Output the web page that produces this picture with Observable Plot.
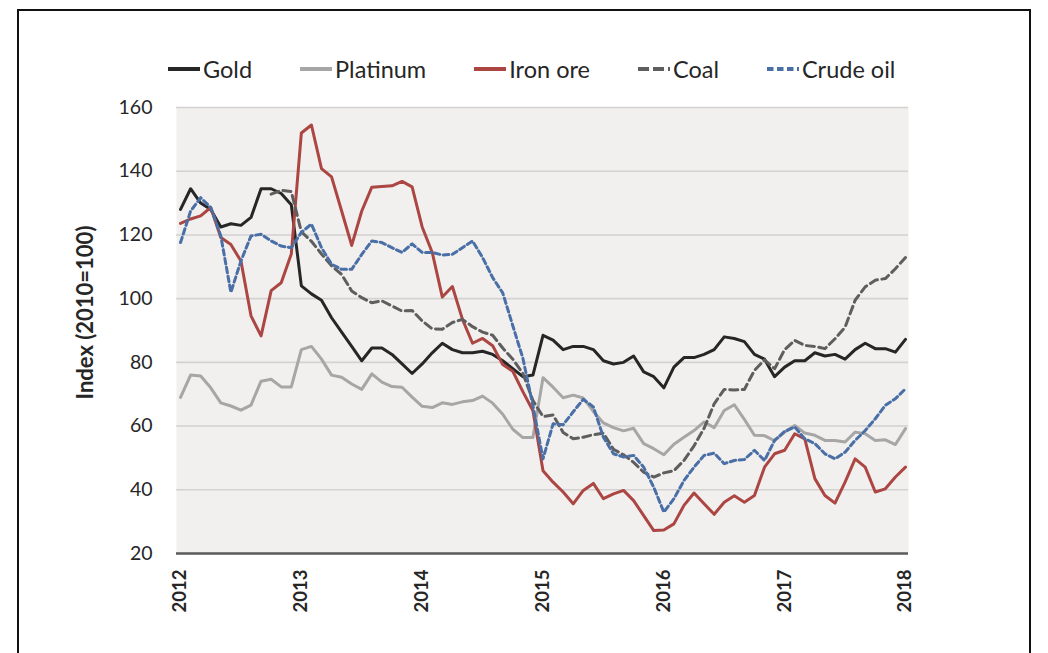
<!DOCTYPE html>
<html>
<head>
<meta charset="utf-8">
<script src="https://cdn.jsdelivr.net/npm/d3@7"></script>
<script src="https://cdn.jsdelivr.net/npm/@observablehq/plot@0.6"></script>
<style>
html, body { margin: 0; padding: 0; background: #fff; }
#wrap { position: relative; width: 1048px; height: 653px; overflow: hidden; font-family: Lato, "Open Sans", sans-serif; color: #262626; }
#frame { position: absolute; left: 17px; top: 9px; width: 1014px; height: 720px; border: 2px solid #111; box-sizing: border-box; }
#legend { position: absolute; top: 55px; left: 168px; display: flex; align-items: center; height: 28px; font-size: 23.5px; white-space: nowrap; }
.item { display: flex; align-items: center; margin-right: 48px; }
.item svg { margin-right: 3px; display: block; }
#chart { position: absolute; left: 0; top: 90px; }
</style>
</head>
<body>
<div id="wrap">
  <div id="frame"></div>
  <div id="legend"></div>
  <div id="chart"></div>
</div>
<script>
// ---- data (monthly, Jan 2012 .. Jan 2018; index 2010 = 100) ----
const years = [2012, 2013, 2014, 2015, 2016, 2017, 2018];
const yTicks = [20, 40, 60, 80, 100, 120, 140, 160];
const seriesNames = ["Gold", "Platinum", "Iron ore", "Coal", "Crude oil"];

const gold = [
  128, 134.5, 130, 128, 122.5, 123.5, 123, 125.5, 134.5, 134.5, 133, 129.5,
  104, 101.5, 99.5, 94, 89.5, 85, 80.5, 84.5, 84.5, 82.5, 79.5, 76.5,
  79.5, 83, 86, 84, 83, 83, 83.5, 82.5, 80.5, 78, 75.5, 76,
  88.5, 87, 84, 85, 85, 84, 80.5, 79.5, 80, 82, 77, 75.5,
  72, 78.5, 81.5, 81.5, 82.5, 84, 88, 87.5, 86.5, 82.5, 81, 75.5,
  78.5, 80.5, 80.5, 83, 82, 82.5, 81, 84, 86, 84.3, 84.3, 83.2, 87.2
];
const platinum = [
  69, 76, 75.7, 72, 67.3, 66.3, 65, 66.6, 74.1, 74.7, 72.3, 72.3,
  84, 85, 81, 76, 75.3, 73.2, 71.5, 76.4, 73.8, 72.4, 72.2, 69.1,
  66.2, 65.8, 67.3, 66.8, 67.6, 68, 69.4, 67.2, 63.7, 59, 56.4, 56.4,
  75.2, 72.2, 68.9, 69.7, 68.8, 64.6, 61, 59.5, 58.5, 59.3, 54.5, 52.9,
  51, 54.3, 56.5, 58.6, 61.3, 59.5, 64.9, 66.7, 62.1, 57.1, 57, 55.4,
  58.1, 60.2, 57.8, 57.1, 55.5, 55.5, 55, 58.1, 57.6, 55.5, 55.7, 54.2, 59.2
];
const ironOre = [
  123.6, 125, 126, 128.6, 119.2, 117, 111.8, 94.6, 88.3, 102.5, 105, 114,
  152, 154.5, 140.8, 138.2, 127.5, 116.7, 127.5, 135, 135.2, 135.4, 136.8, 135.1,
  122.5, 114.5, 100.5, 103.8, 93.5, 86, 87.5, 85.2, 79.3, 77.2, 70.8, 64.8,
  46, 42.4, 39.3, 35.6, 39.8, 42, 37.2, 38.7, 39.8, 36.6, 31.9, 27.2,
  27.4, 29.3, 35.1, 39, 35.6, 32.3, 36.1, 38.1, 36.1, 38.2, 47.1, 51.3,
  52.4, 57.6, 56, 43.5, 38.2, 35.8, 42.4, 49.7, 47.1, 39.3, 40.3, 44, 47.1
];
const coal = [
  null, null, null, null, null, null, null, null, null, 132.8, 134, 133.6,
  121, 118, 114, 110.3, 107.6, 102.4, 100.3, 98.7, 99.3, 97.7, 96.1, 96.3,
  93, 90.5, 90.4, 92.5, 93.5, 91.2, 89.5, 88.5, 84.5, 81, 76.5, 68,
  63, 63.5, 58, 56, 56.5, 57.3, 57.8, 52.7, 51, 48.6, 45.5, 44,
  45.3, 46, 49.2, 53.8, 59.3, 67, 71.5, 71.3, 71.5, 77.5, 80.8, 78,
  84, 86.9, 85.3, 85, 84.3, 87.4, 91, 99.5, 103.7, 105.8, 106.3, 109.4, 112.9
];
const crudeOil = [
  117.6, 127.5, 131.7, 128.6, 119.7, 102, 111.8, 119.7, 120.2, 118.1, 116.5, 116,
  120.8, 123.4, 116, 110.8, 109.2, 109.2, 113.9, 118.1, 117.6, 116, 114.5, 117.2,
  114.5, 114.5, 113.7, 113.9, 116, 118.1, 112.9, 106.6, 101.8, 91.5, 81.3, 66.4,
  49.7, 60.7, 60.4, 64.5, 68.4, 66, 56.5, 51.3, 50.3, 50.8, 47.1, 40.8,
  33, 37.2, 42.9, 47.1, 50.8, 51.5, 48.2, 49.2, 49.5, 52.4, 49.2, 55.5,
  58.3, 59.7, 56, 54.5, 51.3, 49.7, 51.8, 55.5, 58.6, 62.3, 66.5, 68.6, 71.7
];

// ---- styles ----
const seriesValues = [gold, platinum, ironOre, coal, crudeOil];
const seriesColors = ["#262626", "#a6a6a6", "#ab4643", "#5e5e5e", "#4a6fa6"];
const seriesDash = [null, null, null, "8,4.5", "5.5,3.5"];
const legendDash = [null, null, null, "11,4", "6.5,3.5"];

const startYear = years[0];
const rows = [];
seriesNames.forEach((name, s) => {
  seriesValues[s].forEach((v, i) => rows.push({series: name, month: i, value: v}));
});

// ---- legend ----
const legend = d3.select("#legend");
seriesNames.forEach((name, s) => {
  const item = legend.append("div").attr("class", "item");
  const sw = item.append("svg").attr("width", 32).attr("height", 8);
  sw.append("line").attr("x1", 0).attr("x2", 32).attr("y1", 4).attr("y2", 4)
    .attr("stroke", seriesColors[s]).attr("stroke-width", 4)
    .attr("stroke-dasharray", legendDash[s]);
  item.append("span").text(name);
});

// ---- chart ----
const lineMarks = seriesNames.map((name, s) =>
  Plot.line(rows.filter(d => d.series === name), {
    x: "month", y: "value",
    stroke: seriesColors[s], strokeWidth: 3,
    strokeDasharray: seriesDash[s] ?? undefined,
    strokeLinejoin: "round"
  })
);

const chart = Plot.plot({
  width: 1048,
  height: 563,
  marginLeft: 176,
  marginRight: 140,
  marginTop: 17,
  marginBottom: 100,
  style: {fontFamily: "Lato, 'Open Sans', sans-serif", fontSize: "19.5px", color: "#262626", background: "transparent"},
  x: {domain: [-0.4, (years.length - 1) * 12 + 0.3]},
  y: {domain: [yTicks[0], yTicks[yTicks.length - 1]]},
  marks: [
    Plot.frame({fill: "#f2f0ef", stroke: "none"}),
    Plot.gridY(yTicks.slice(1), {stroke: "#d2d2d2", strokeOpacity: 1, strokeWidth: 1.6}),
    Plot.ruleY([yTicks[0]], {stroke: "#5a5a5a", strokeWidth: 2.5}),
    ...lineMarks,
    Plot.axisX(years.map(y => (y - startYear) * 12), {
      tickFormat: m => String(startYear + m / 12),
      tickRotate: -90, tickSize: 0, tickPadding: 16,
      fontWeight: "bold", fontSize: 18.5, label: null
    }),
    Plot.axisY(yTicks, {
      tickSize: 0, tickPadding: 24,
      label: "Index (2010=100)", labelAnchor: "center", labelArrow: "none", labelOffset: 99
    })
  ]
});
const yLabel = d3.select(chart).selectAll('g[aria-label="y-axis label"]')
  .attr("font-weight", "bold").attr("font-size", "22px");
yLabel.selectAll("text").attr("transform", function () {
  return (this.getAttribute("transform") || "") + " translate(18,0)";
});
document.getElementById("chart").appendChild(chart);
</script>
</body>
</html>
